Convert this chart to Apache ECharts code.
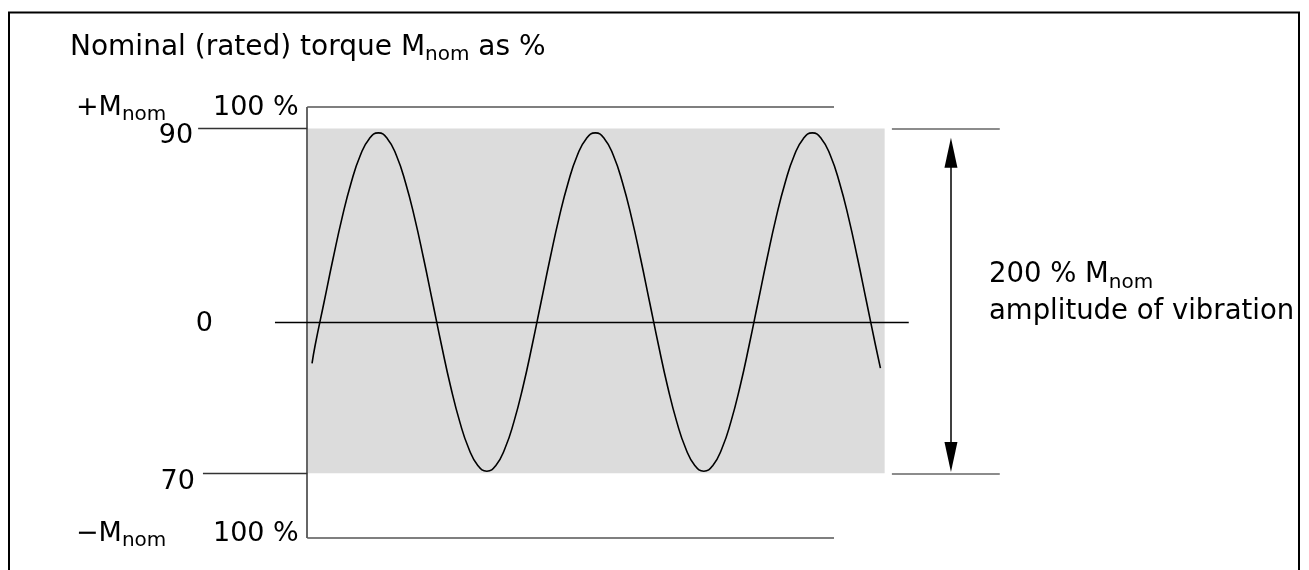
<!DOCTYPE html>
<html>
<head>
<meta charset="utf-8">
<script src="https://cdn.jsdelivr.net/npm/echarts@6/dist/echarts.min.js"></script>
<style>
html,body{margin:0;padding:0;background:#fff;}
#c{width:1309px;height:570px;}
</style>
</head>
<body>
<div id="c"></div>
<script>
// Phase angle (degrees) of the vibration, read along the time axis
const phaseDeg = [-20,-15,0,15,30,45,60,75,90,105,120,135,150,165,180,195,210,225,240,255,270,285,300,315,330,345,
  360,375,390,405,420,435,450,465,480,495,510,525,540,555,570,585,600,615,630,645,660,675,690,705,
  720,735,750,765,780,795,810,825,840,855,870,885,900,915,923];
// Torque as % of nominal torque
const torquePct = [-19,-10.8,9.5,29.8,48.8,65.0,77.5,85.3,88.0,85.3,77.5,65.0,48.8,29.8,9.5,-10.8,-29.8,-46.0,-58.5,-66.3,-69.0,-66.3,-58.5,-46.0,-29.8,-10.8,
  9.5,29.8,48.8,65.0,77.5,85.3,88.0,85.3,77.5,65.0,48.8,29.8,9.5,-10.8,-29.8,-46.0,-58.5,-66.3,-69.0,-66.3,-58.5,-46.0,-29.8,-10.8,
  9.5,29.8,48.8,65.0,77.5,85.3,88.0,85.3,77.5,65.0,48.8,29.8,9.5,-10.8,-21.2];
// Reference levels (% of nominal torque)
const upperLimit = 90;
const lowerLimit = -70;
const nominalMax = 100;
const nominalMin = -100;
// Horizontal extents (phase degrees) for annotation elements
const axisPhase = -28;
const boxEndPhase = 930;
const nominalLineEnd = 846;
const zeroLineStart = -81.5;
const zeroLineEnd = 970;
const tick90Start = -209;
const tick70Start = -201;
const dimLineStart = 942;
const dimLineEnd = 1121;
const arrowPhase = 1040;
const arrowTop = 78.8;
const arrowBottom = -62.4;
const tickLabels = ['90', '0', '70'];

const FONT = 'DejaVu Sans';
const chart = echarts.init(document.getElementById('c'), null, {renderer: 'canvas'});

const wave = phaseDeg.map((p, i) => [p, torquePct[i]]);

const axisLineStyle = {color: '#666', width: 2, type: 'solid'};
const nomLine = {color: '#555', width: 1.5, type: 'solid'};
const dimLine = {color: '#666', width: 1.5, type: 'solid'};
const tickLine = {color: '#333', width: 1.3, type: 'solid'};
const tickLabel = (txt, dist, padTop) => ({show: true, position: 'start', distance: dist,
  formatter: '{v|' + txt + '}',
  rich: {v: {fontFamily: FONT, fontSize: 27, color: '#000', lineHeight: 30, padding: [padTop, 0, 0, 0]}}});

const option = {
  animation: false,
  backgroundColor: '#fff',
  grid: {left: 149.3, right: 303.8, top: 107, height: 431},
  xAxis: {type: 'value', min: -290, max: 1130, show: false},
  yAxis: {type: 'value', min: nominalMin, max: nominalMax, show: false},
  graphic: [
    {type: 'rect', shape: {x: 9, y: 12.5, width: 1290, height: 640},
     style: {fill: 'none', stroke: '#000', lineWidth: 2}, z: 100},
    {type: 'text', x: 70, y: 48, style: {
      text: '{a|Nominal (rated) torque M}{s|nom}{a| as %}',
      verticalAlign: 'middle',
      rich: {
        a: {fontFamily: FONT, fontSize: 28, lineHeight: 34, fill: '#000'},
        s: {fontFamily: FONT, fontSize: 20, lineHeight: 15, verticalAlign: 'bottom', fill: '#000'}
      }}},
    {type: 'text', x: 76, y: 108, style: {
      text: '{a|+M}{s|nom}',
      verticalAlign: 'middle',
      rich: {
        a: {fontFamily: FONT, fontSize: 27, lineHeight: 34, fill: '#000'},
        s: {fontFamily: FONT, fontSize: 20, lineHeight: 15, verticalAlign: 'bottom', fill: '#000'}
      }}},
    {type: 'text', x: 213, y: 107.5, style: {text: '100 %', fontFamily: FONT, fontSize: 27, verticalAlign: 'middle', fill: '#000'}},
    {type: 'text', x: 76, y: 534, style: {
      text: '{a|\u2212M}{s|nom}',
      verticalAlign: 'middle',
      rich: {
        a: {fontFamily: FONT, fontSize: 27, lineHeight: 34, fill: '#000'},
        s: {fontFamily: FONT, fontSize: 20, lineHeight: 15, verticalAlign: 'bottom', fill: '#000'}
      }}},
    {type: 'text', x: 213, y: 534, style: {text: '100 %', fontFamily: FONT, fontSize: 27, verticalAlign: 'middle', fill: '#000'}},
    {type: 'text', x: 989, y: 293, style: {
      text: '{a|200 % M}{s|nom}\n{a|amplitude of vibration}',
      verticalAlign: 'middle',
      rich: {
        a: {fontFamily: FONT, fontSize: 27.5, lineHeight: 37, fill: '#000'},
        s: {fontFamily: FONT, fontSize: 20, lineHeight: 15, verticalAlign: 'bottom', fill: '#000'}
      }}}
  ],
  series: [
    {
      type: 'line', data: [], z: 1,
      markArea: {
        silent: true,
        itemStyle: {color: '#dcdcdc'},
        data: [[{coord: [axisPhase, upperLimit]}, {coord: [boxEndPhase, lowerLimit]}]]
      }
    },
    {
      type: 'line', data: [], z: 3,
      markLine: {
        silent: true, symbol: 'none', animation: false,
        label: {show: false},
        data: [
          [{coord: [axisPhase, nominalMax], lineStyle: axisLineStyle}, {coord: [axisPhase, nominalMin]}],
          [{coord: [axisPhase, nominalMax], lineStyle: nomLine}, {coord: [nominalLineEnd, nominalMax]}],
          [{coord: [axisPhase, nominalMin], lineStyle: nomLine}, {coord: [nominalLineEnd, nominalMin]}],
          [{coord: [tick90Start, upperLimit], lineStyle: tickLine, label: tickLabel(tickLabels[0], 5, 15)},
           {coord: [axisPhase, upperLimit]}],
          [{coord: [tick70Start, lowerLimit], lineStyle: tickLine, label: tickLabel(tickLabels[2], 8, 18)},
           {coord: [axisPhase, lowerLimit]}],
          [{coord: [zeroLineStart, 0], lineStyle: {color: '#000', width: 1.3, type: 'solid'}, label: tickLabel(tickLabels[1], 62, 2)},
           {coord: [zeroLineEnd, 0]}],
          [{coord: [dimLineStart, upperLimit], lineStyle: dimLine}, {coord: [dimLineEnd, upperLimit]}],
          [{coord: [dimLineStart, lowerLimit], lineStyle: dimLine}, {coord: [dimLineEnd, lowerLimit]}]
        ]
      }
    },
    {
      type: 'line', data: [], z: 4,
      markLine: {
        silent: true, animation: false,
        symbol: ['triangle', 'triangle'], symbolSize: [13, 30],
        label: {show: false},
        lineStyle: {color: '#000', width: 1.5, type: 'solid'},
        itemStyle: {color: '#000'},
        data: [[{coord: [arrowPhase, arrowTop]}, {coord: [arrowPhase, arrowBottom]}]]
      }
    },
    {
      name: 'Torque', type: 'line', data: wave, z: 5,
      smooth: true, showSymbol: false, symbol: 'none',
      lineStyle: {color: '#000', width: 1.6},
      silent: true
    }
  ]
};
chart.setOption(option);
</script>
</body>
</html>
